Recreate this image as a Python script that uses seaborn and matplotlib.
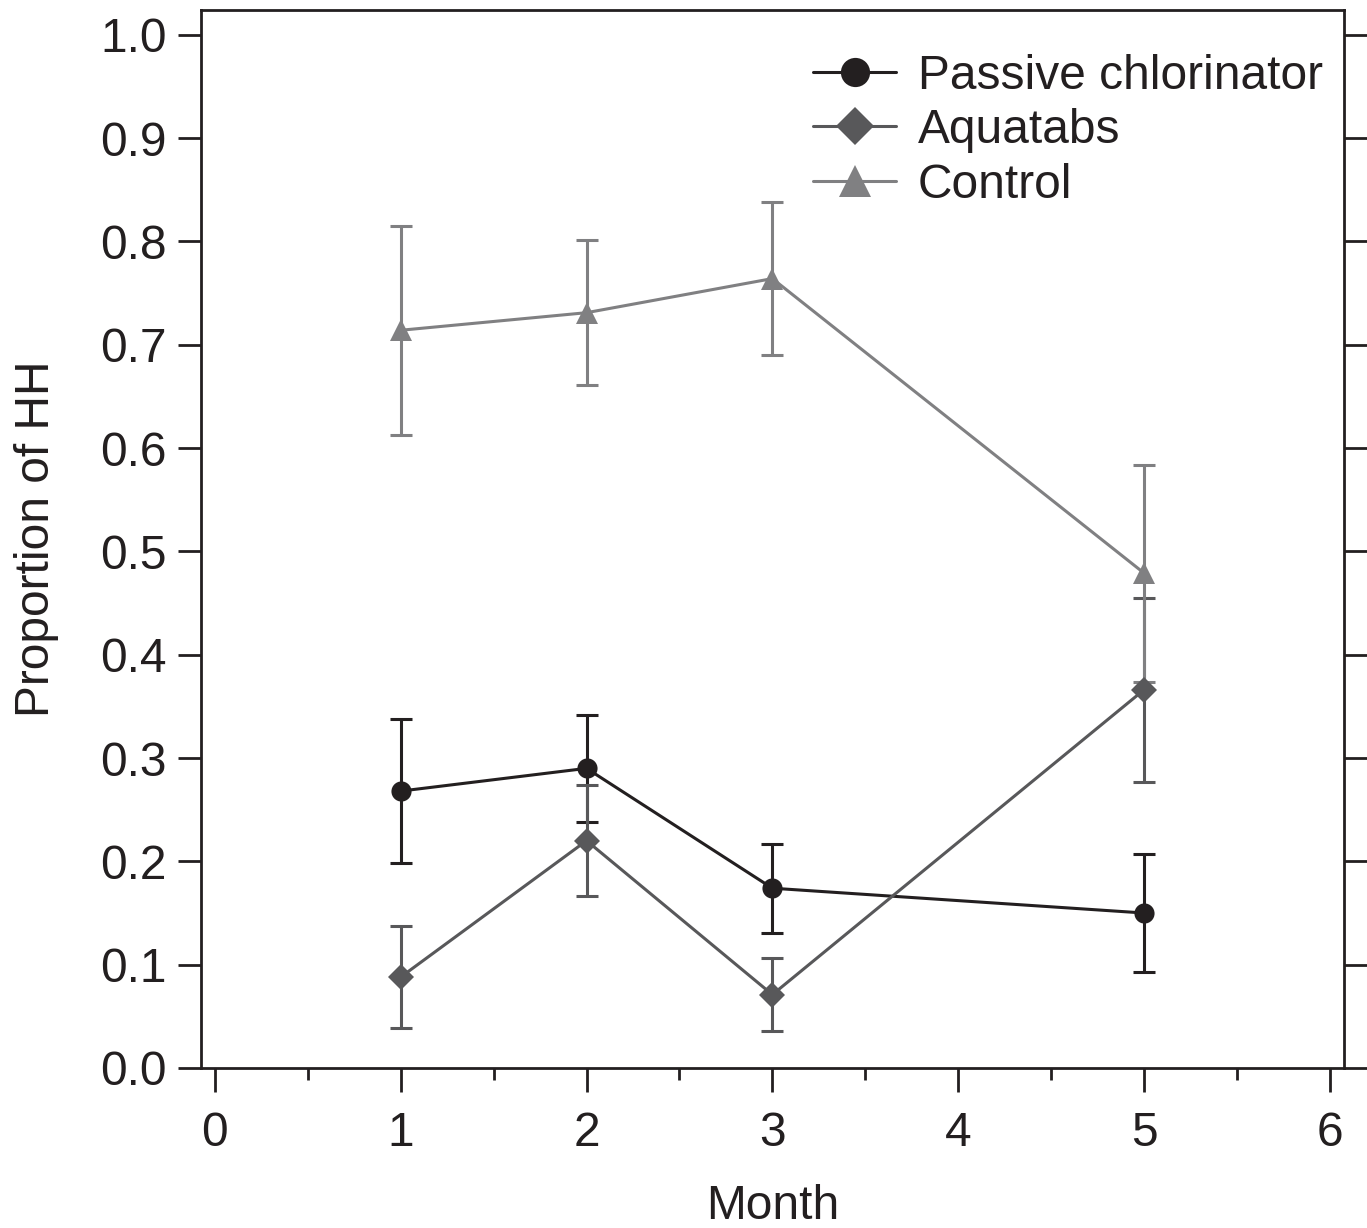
import numpy as np
import pandas as pd
import seaborn as sns
import matplotlib.pyplot as plt
from matplotlib.ticker import MultipleLocator


# valeurs
months = [1, 2, 3, 5]
passive = [0.268, 0.290, 0.174, 0.150]
passive_err = [0.070, 0.052, 0.043, 0.057]
aquatabs = [0.088, 0.220, 0.071, 0.366]
aquatabs_err = [0.049, 0.054, 0.035, 0.089]
control = [0.714, 0.731, 0.764, 0.479]
control_err = [0.101, 0.070, 0.074, 0.105]

series = [
    ('Passive chlorinator', passive, passive_err, '#231f20', 'o', 14.5),
    ('Aquatabs', aquatabs, aquatabs_err, '#58585a', 'D', 13.5),
    ('Control', control, control_err, '#808082', '^', 16),
]

sns.set_theme(style='ticks')
plt.rcParams['font.family'] = ['Liberation Sans', 'DejaVu Sans']
plt.rcParams['text.color'] = '#231f20'
plt.rcParams['axes.labelcolor'] = '#231f20'
plt.rcParams['xtick.color'] = '#231f20'
plt.rcParams['ytick.color'] = '#231f20'

fig = plt.figure(figsize=(13.67, 12.28), dpi=100)
ax = fig.add_axes([0.147, 0.1303, 0.836, 0.8616])

for name, vals, errs, col, mk, ms in series:
    df = pd.DataFrame({'month': months, 'prop': vals})
    ax.errorbar(months, vals, yerr=errs, fmt='none', ecolor=col, elinewidth=2.2,
                capsize=7.6, capthick=2.2, zorder=2)
    sns.lineplot(data=df, x='month', y='prop', ax=ax, color=col, marker=mk,
                 markersize=ms, markeredgewidth=0, linewidth=2.2, label=name, zorder=3)

ax.set_xlim(-0.075, 6.075)
ax.set_ylim(0, 1.024)
ax.xaxis.set_major_locator(MultipleLocator(1))
ax.xaxis.set_minor_locator(MultipleLocator(0.5))
ax.yaxis.set_major_locator(MultipleLocator(0.1))
ax.yaxis.set_major_formatter(plt.FormatStrFormatter('%.1f'))

for s in ax.spines.values():
    s.set_linewidth(2)
    s.set_color('#231f20')

ax.tick_params(axis='x', which='major', length=17, width=2, labelsize=34.5, pad=14, direction='out')
ax.tick_params(axis='x', which='minor', length=8.5, width=2, direction='out')
ax.tick_params(axis='y', which='major', length=16.5, width=2, labelsize=34.5, pad=8,
               direction='out', right=True)

ax.set_xlabel('Month', fontsize=34.5, labelpad=20)
ax.set_ylabel('Proportion of HH', fontsize=34.5, labelpad=30)

ax.legend(loc='upper right', frameon=False, fontsize=34.5, markerscale=1.45,
          handlelength=1.75, handletextpad=0.45, labelspacing=0.2,
          borderaxespad=0.2, bbox_to_anchor=(1.007, 0.986))

plt.savefig('out.png', dpi=100)
